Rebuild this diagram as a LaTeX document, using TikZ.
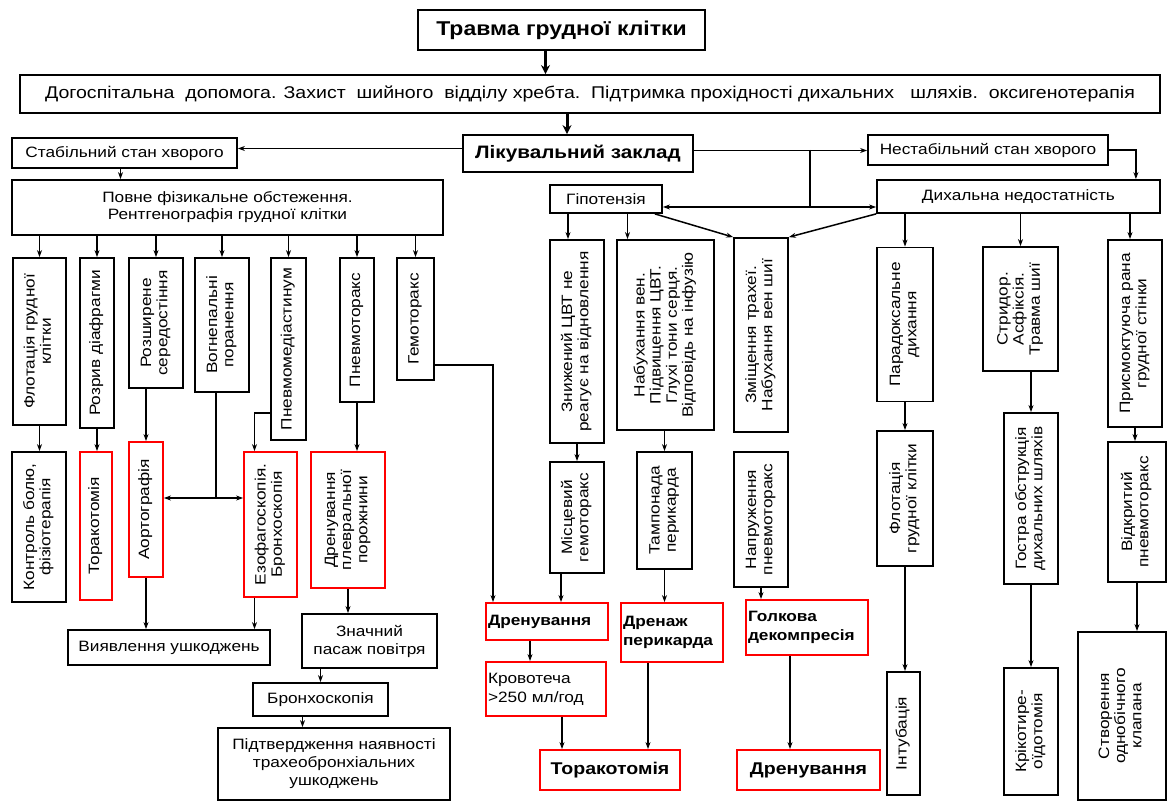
\documentclass[tikz,border=0pt]{standalone}
\usepackage{fontspec}
\setmainfont{Liberation Sans}[FakeStretch=1.15]
\usepackage{graphicx}
\usetikzlibrary{arrows.meta}
\newcommand{\vlab}[1]{\rotatebox{90}{\renewcommand{\arraystretch}{0.95}\begin{tabular}{@{}c@{}}#1\end{tabular}}}

\begin{document}
\begin{tikzpicture}[x=1pt, y=-1pt, line width=1.5pt, >={Stealth[length=7pt,width=5pt]}]
    \tikzstyle{box} = [rectangle, draw=black, line width=1.8pt, inner sep=2pt, align=center, font=\fontsize{15}{17}\selectfont]
    \tikzstyle{redbox} = [box, draw=red]
    \tikzstyle{vbox} = [box, inner sep=0pt]
    \tikzstyle{vred} = [vbox, draw=red]
    \tikzstyle{bigarrow} = [->, line width=3pt, >={Stealth[length=9pt,width=9pt]}]
    \useasboundingbox (0,0) rectangle (1168,802);

    % Top of the scheme
    \node [box, minimum width=287pt, minimum height=40pt, font=\bfseries\fontsize{20}{24}\selectfont] (title) at (561.5,30) {Травма грудної клітки};
    \node [box, minimum width=1140pt, minimum height=38pt, font=\fontsize{17}{20}\selectfont] (pre) at (590,94) {Догоспітальна\ \ допомога. Захист\ \ шийного\ \ відділу хребта.\ \ Підтримка прохідності дихальних\ \ \ шляхів.\ \ оксигенотерапія};
    \node [box, minimum width=230pt, minimum height=37pt, font=\bfseries\fontsize{18}{22}\selectfont] (hosp) at (578,153.5) {Лікувальний заклад};
    \node [box, minimum width=225pt, minimum height=30pt] (stable) at (124.5,153) {Стабільний стан хворого};
    \node [box, minimum width=240pt, minimum height=30pt] (unstable) at (988,150) {Нестабільний стан хворого};
    \node [box, minimum width=431pt, minimum height=55pt] (exam) at (227.5,207.5) {Повне фізикальне обстеження.\\Рентгенографія грудної клітки};
    \node [box, minimum width=112pt, minimum height=28pt] (hypo) at (606,199) {Гіпотензія};
    \node [box, minimum width=283pt, minimum height=33pt] (resp) at (1018.5,196.5) {Дихальна недостатність};

    % Stable patient
    \node [vbox, minimum width=53pt, minimum height=167pt] (v1) at (39.5,341.5) {\vlab{Флотація грудної\\клітки}};
    \node [vbox, minimum width=34pt, minimum height=170pt] (v2) at (97,343) {\vlab{Розрив діафрагми}};
    \node [vbox, minimum width=54pt, minimum height=130pt] (v3) at (156,323) {\vlab{Розширене\\середостіння}};
    \node [vbox, minimum width=54pt, minimum height=134pt] (v4) at (222,325) {\vlab{Вогнепальні\\поранення}};
    \node [vbox, minimum width=35pt, minimum height=182pt] (v5) at (288.5,349) {\vlab{Пневмомедіастинум}};
    \node [vbox, minimum width=34pt, minimum height=144pt] (v6) at (357,330) {\vlab{Пневмоторакс}};
    \node [vbox, minimum width=37pt, minimum height=122pt] (v7) at (415.5,319) {\vlab{Гемоторакс}};

    \node [vbox, minimum width=54pt, minimum height=150pt] (l1) at (39,527) {\vlab{Контроль болю,\\фізіотерапія}};
    \node [vred, minimum width=32pt, minimum height=148pt] (l2) at (96,526) {\vlab{Торакотомія}};
    \node [vred, minimum width=34pt, minimum height=135pt] (l3) at (146,509.5) {\vlab{Аортографія}};
    \node [vred, minimum width=53pt, minimum height=145pt] (l4) at (270.5,524.5) {\vlab{Езофагоскопія.\\Бронхоскопія}};
    \node [vred, minimum width=74pt, minimum height=136pt] (l5) at (348,520) {\vlab{Дренування\\плевральної\\порожнини}};

    \node [box, minimum width=202pt, minimum height=35pt] (detect) at (169,647.5) {Виявлення ушкоджень};
    \node [box, minimum width=135pt, minimum height=54pt, font=\fontsize{15}{18}\selectfont] (air) at (369.5,641) {Значний\\пасаж повітря};
    \node [box, minimum width=135pt, minimum height=33pt] (bronch) at (320.5,699.5) {Бронхоскопія};
    \node [box, minimum width=232pt, minimum height=72pt, font=\fontsize{15}{18}\selectfont] (conf) at (334,764) {Підтвердження наявності\\трахеобронхіальних\\ушкоджень};

    % Hypotension
    \node [vbox, minimum width=54pt, minimum height=203pt] (m1) at (577,341.5) {\vlab{Знижений ЦВТ не\\реагує на відновлення}};
    \node [vbox, minimum width=97pt, minimum height=190pt] (m2) at (665.5,335) {\vlab{Набухання вен.\\Підвищення ЦВТ.\\Глухі тони серця.\\Відповідь на інфузію}};
    \node [vbox, minimum width=54pt, minimum height=194pt] (m3) at (761,335) {\vlab{Зміщення трахеї.\\Набухання вен шиї}};
    \node [vbox, minimum width=54pt, minimum height=111pt] (m4) at (577,517.5) {\vlab{Місцевий\\гемоторакс}};
    \node [vbox, minimum width=55pt, minimum height=117pt] (m5) at (664.5,510.5) {\vlab{Тампонада\\перикарда}};
    \node [vbox, minimum width=54pt, minimum height=135pt] (m6) at (761,519.5) {\vlab{Напруження\\пневмоторакс}};

    \node [redbox, minimum height=37pt, text width=118pt, align=left, font=\bfseries\fontsize{15}{18}\selectfont] (d1) at (547,621.5) {Дренування};
    \node [redbox, minimum height=59pt, text width=98pt, align=left, font=\bfseries\fontsize{15}{19}\selectfont] (d2) at (672,632.5) {Дренаж\\перикарда};
    \node [redbox, minimum height=55pt, text width=118pt, align=left, font=\bfseries\fontsize{15}{19}\selectfont] (d3) at (807,627.5) {Голкова\\декомпресія};
    \node [redbox, minimum height=54pt, text width=116pt, align=left, font=\fontsize{15}{19}\selectfont] (bleed) at (546,689) {Кровотеча\\>250 мл/год};
    \node [redbox, minimum width=140pt, minimum height=40pt, font=\bfseries\fontsize{17}{20}\selectfont] (thor2) at (610,770) {Торакотомія};
    \node [redbox, minimum width=143pt, minimum height=40pt, font=\bfseries\fontsize{17}{20}\selectfont] (drain3) at (808.5,770) {Дренування};

    % Respiratory failure
    \node [vbox, minimum width=56pt, minimum height=154pt] (r1) at (905,324.5) {\vlab{Парадоксальне\\дихання}};
    \node [vbox, minimum width=75pt, minimum height=124pt] (r2) at (1020.5,309) {\vlab{Стридор.\\Асфіксія.\\Травма шиї}};
    \node [vbox, minimum width=54pt, minimum height=187pt] (r3) at (1135,333.5) {\vlab{Присмоктуюча рана\\грудної стінки}};
    \node [vbox, minimum width=56pt, minimum height=135pt] (r4) at (905,498.5) {\vlab{Флотація\\грудної клітки}};
    \node [vbox, minimum width=54pt, minimum height=171pt] (r5) at (1031,498.5) {\vlab{Гостра обструкція\\дихальних шляхів}};
    \node [vbox, minimum width=58pt, minimum height=140pt] (r6) at (1137,512) {\vlab{Відкритий\\пневмоторакс}};
    \node [vbox, minimum width=33pt, minimum height=123pt] (r7) at (903.5,733.5) {\vlab{Інтубація}};
    \node [vbox, minimum width=54pt, minimum height=127pt] (r8) at (1031,731.5) {\vlab{Крікотире-\\оїдотомія}};
    \node [vbox, minimum width=88pt, minimum height=168pt] (r9) at (1122,716) {\vlab{Створення\\однобічного\\клапана}};

    % Connections: top
    \draw [bigarrow] ([xshift=-16pt]title.south) -- ([xshift=-16pt]title.south |- pre.north);
    \draw [bigarrow] ([xshift=-11pt]hosp.north |- pre.south) -- ([xshift=-11pt]hosp.north);
    \draw [->] ([yshift=5pt]hosp.west) -- ([yshift=5pt]hosp.west -| stable.east);
    \draw [->] ([yshift=3pt]hosp.east) -- ([yshift=3pt]hosp.east -| unstable.west);
    \coordinate (jtop) at (810,150);
    \coordinate (jbot) at (810,207);
    \draw (jtop) -- (jbot);
    \draw [<->] ([yshift=-8pt]hypo.east) -- ([yshift=-8pt]hypo.east -| resp.west);
    \draw [->] (unstable.east) -| ([xshift=-25pt]resp.north east);
    \draw [->] ([xshift=-4pt]stable.south) -- ([xshift=-4pt]stable.south |- exam.north);

    % Connections: stable patient
    \draw [->] (v1.north |- exam.south) -- (v1.north);
    \draw [->] (v2.north |- exam.south) -- (v2.north);
    \draw [->] (v3.north |- exam.south) -- (v3.north);
    \draw [->] (v4.north |- exam.south) -- (v4.north);
    \draw [->] (v5.north |- exam.south) -- (v5.north);
    \draw [->] (v6.north |- exam.south) -- (v6.north);
    \draw [->] (v7.north |- exam.south) -- (v7.north);
    \draw [->] (v1.south) -- (v1.south |- l1.north);
    \draw [->] (v2.south) -- (v2.south |- l2.north);
    \draw [->] (l3.north |- v3.south) -- (l3.north);
    \coordinate (gun) at (216,498);
    \draw (gun |- v4.south) -- (gun);
    \draw [->] (gun) -- (gun -| l3.east);
    \draw [->] (gun) -- (gun -| l4.west);
    \draw [->] ([yshift=-64pt]v5.west) -| ([xshift=-16pt]l4.north);
    \draw [->] (v6.south) -- (v6.south |- l5.north);
    \draw [->] (l3.south) -- (l3.south |- detect.north);
    \draw [->] ([xshift=-16pt]l4.south) -- ([xshift=-16pt]l4.south |- detect.north);
    \draw [->] (l5.south) -- (l5.south |- air.north);
    \draw [->] (bronch.north |- air.south) -- (bronch.north);
    \draw [->] ([xshift=-18pt]bronch.south) -- ([xshift=-18pt]bronch.south |- conf.north);
    \draw [->] ([yshift=-46pt]v7.east) -| ([xshift=-54pt]d1.north);

    % Connections: hypotension
    \draw [->] ([xshift=-9pt]m1.north |- hypo.south) -- ([xshift=-9pt]m1.north);
    \draw [->] ([xshift=-38pt]m2.north |- hypo.south) -- ([xshift=-38pt]m2.north);
    \draw [->] ([xshift=-8pt]hypo.south east) -- (m3.north west);
    \draw [->] (resp.south west) -- (m3.north east);
    \draw [->] (m4.north |- m1.south) -- (m4.north);
    \draw [->] (m5.north |- m2.south) -- (m5.north);
    \draw [->] ([xshift=-16pt]m4.south) -- ([xshift=-16pt]m4.south |- d1.north);
    \draw [->] (m5.south) -- (m5.south |- d2.north);
    \draw [->] (m6.south) -- (m6.south |- d3.north);
    \draw [->] ([xshift=-17pt]d1.south) -- ([xshift=-17pt]d1.south |- bleed.north);
    \draw [->] ([xshift=16pt]bleed.south) -- ([xshift=16pt]bleed.south |- thor2.north);
    \draw [->] ([xshift=-24pt]d2.south) -- ([xshift=-24pt]d2.south |- thor2.north);
    \draw [->] ([xshift=-17pt]d3.south) -- ([xshift=-17pt]d3.south |- drain3.north);

    % Connections: respiratory failure
    \draw [->] (r1.north |- resp.south) -- (r1.north);
    \draw [->] (r2.north |- resp.south) -- (r2.north);
    \draw [->] ([xshift=-5pt]r3.north |- resp.south) -- ([xshift=-5pt]r3.north);
    \draw [->] (r1.south) -- (r1.south |- r4.north);
    \draw [->] (r5.north |- r2.south) -- (r5.north);
    \draw [->] (r3.south) -- (r3.south |- r6.north);
    \draw [->] (r4.south) -- (r4.south |- r7.north);
    \draw [->] (r5.south) -- (r5.south |- r8.north);
    \draw [->] (r6.south) -- (r6.south |- r9.north);
\end{tikzpicture}
\end{document}
